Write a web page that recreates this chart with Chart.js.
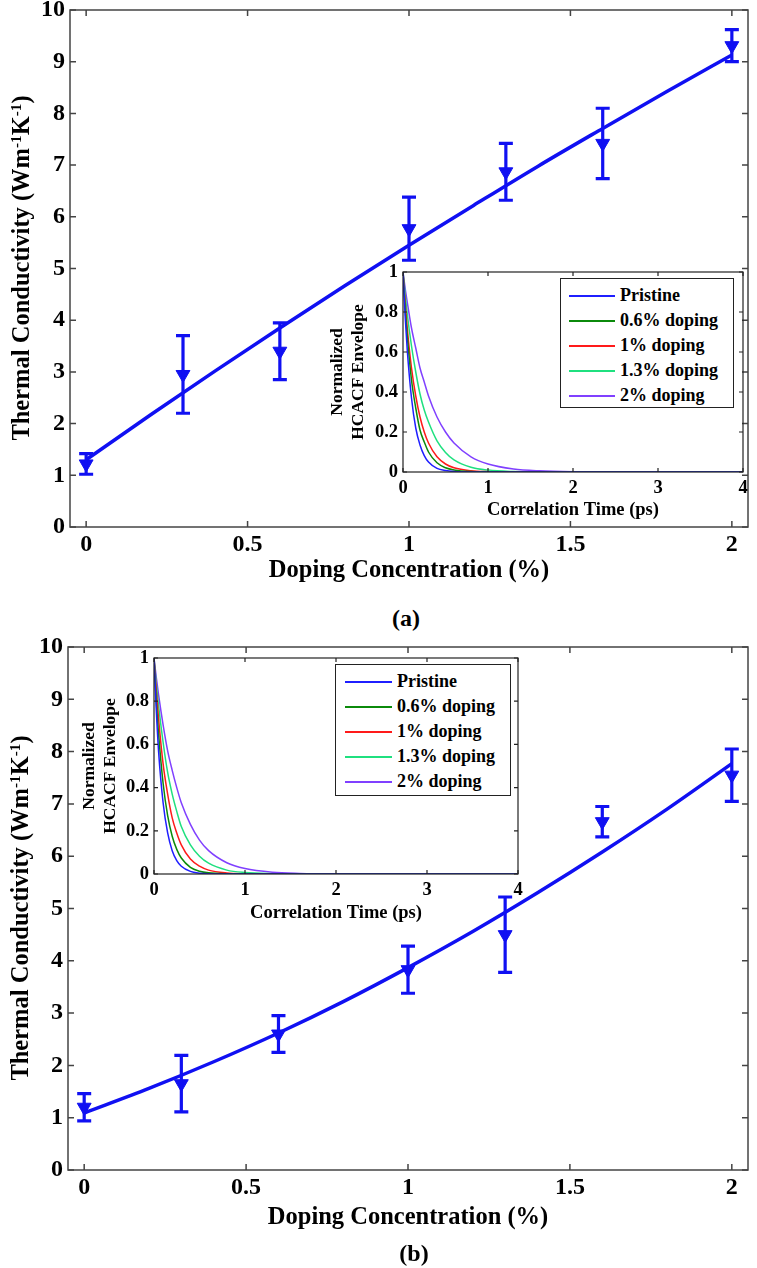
<!DOCTYPE html>
<html>
<head>
<meta charset="utf-8">
<script src="https://cdn.jsdelivr.net/npm/chart.js@4.4.1/dist/chart.umd.min.js"></script>
<style>
  body { margin: 0; background: #fff; width: 757px; height: 1268px; position: relative; overflow: hidden;
         font-family: 'Liberation Serif', 'Times New Roman', serif; font-weight: bold; color: #000; }
  canvas { position: absolute; }
  .legend { position: absolute; border: 1px solid #222; background: #fff; box-sizing: border-box; z-index: 5; }
  .legend .row { height: 25px; line-height: 25px; font-size: 18px; white-space: nowrap; position: relative; }
  .legend .sw { position: absolute; top: 12px; height: 2px; }
  .legend .tx { position: absolute; }
  .panel { position: absolute; font-size: 24px; text-align: center; width: 60px; line-height: 28px; }
  .ytitle { position: absolute; width: 420px; height: 30px; line-height: 30px; font-size: 24.5px; text-align: center;
            white-space: nowrap; transform: rotate(-90deg); transform-origin: 50% 50%; z-index: 4; }
  .ytitle sup { font-size: 0.62em; line-height: 0; vertical-align: 0.55em; }
</style>
</head>
<body>
<canvas id="mainA" width="757" height="590" style="left:0;top:0"></canvas>
<canvas id="insetA" width="432" height="259" style="left:322px;top:263px"></canvas>
<div id="legendA" class="legend" style="left:560px;top:278px;width:174px;height:130px;padding-top:4px"></div>
<div class="ytitle" style="left:-189px;top:253px">Thermal Conductivity (Wm<sup>-1</sup>K<sup>-1</sup>)</div>
<div class="panel" style="left:376px;top:604px">(a)</div>

<canvas id="mainB" width="757" height="615" style="left:0;top:625px"></canvas>
<canvas id="insetB" width="460" height="285" style="left:70px;top:645px"></canvas>
<div id="legendB" class="legend" style="left:335px;top:664px;width:176px;height:132px;padding-top:4px"></div>
<div class="ytitle" style="left:-190px;top:893px">Thermal Conductivity (Wm<sup>-1</sup>K<sup>-1</sup>)</div>
<div class="panel" style="left:384px;top:1239px">(b)</div>

<script>
// ---- main panels: thermal conductivity vs doping ----
const dopingX = [0, 0.3, 0.6, 1.0, 1.3, 1.6, 2.0];
const kappaA  = [1.22, 2.95, 3.4, 5.77, 6.87, 7.42, 9.31];
const errA    = [0.2, 0.75, 0.55, 0.61, 0.55, 0.68, 0.31];
const kappaB  = [1.2, 1.65, 2.6, 3.83, 4.5, 6.66, 7.55];
const errB    = [0.26, 0.54, 0.35, 0.45, 0.72, 0.29, 0.5];

const fitX = [0, 0.2, 0.4, 0.6, 0.8, 1.0, 1.2, 1.4, 1.6, 1.8, 2.0];
const fitA = [1.30, 2.17, 3.02, 3.85, 4.66, 5.45, 6.22, 6.98, 7.71, 8.43, 9.13];
const fitB = [1.09, 1.56, 2.07, 2.62, 3.22, 3.87, 4.56, 5.30, 6.08, 6.90, 7.77];

const mainXTicks = [0, 0.5, 1, 1.5, 2];
const mainYTicks = [0, 1, 2, 3, 4, 5, 6, 7, 8, 9, 10];

// ---- insets: normalized HCACF envelope ----
const corrT = [0, 0.025, 0.05, 0.1, 0.15, 0.2, 0.25, 0.3, 0.4, 0.5, 0.6, 0.8, 1.0, 1.3, 1.6, 2, 3, 4];
const hcacfA_pristine = [1, 0.78, 0.61, 0.37, 0.22, 0.135, 0.082, 0.05, 0.018, 0.007, 0.0025, 0.0003, 0, 0, 0, 0, 0, 0];
const hcacfA_06 = [1, 0.82, 0.68, 0.46, 0.32, 0.21, 0.15, 0.10, 0.046, 0.021, 0.01, 0.002, 0.0005, 0, 0, 0, 0, 0];
const hcacfA_1  = [1, 0.85, 0.72, 0.52, 0.38, 0.275, 0.20, 0.145, 0.076, 0.04, 0.021, 0.006, 0.0016, 0.0002, 0, 0, 0, 0];
const hcacfA_13 = [1, 0.89, 0.79, 0.63, 0.50, 0.39, 0.31, 0.25, 0.156, 0.098, 0.061, 0.024, 0.0096, 0.0024, 0.0006, 0.0001, 0, 0];
const hcacfA_2  = [1, 0.92, 0.85, 0.72, 0.62, 0.52, 0.45, 0.38, 0.275, 0.20, 0.145, 0.076, 0.04, 0.015, 0.0057, 0.0016, 0.0001, 0];

const hcacfB_pristine = [1, 0.76, 0.57, 0.33, 0.19, 0.108, 0.062, 0.036, 0.012, 0.004, 0.0013, 0.0001, 0, 0, 0, 0, 0, 0];
const hcacfB_06 = [1, 0.80, 0.65, 0.42, 0.27, 0.175, 0.114, 0.074, 0.031, 0.013, 0.0055, 0.001, 0.0002, 0, 0, 0, 0, 0];
const hcacfB_1  = [1, 0.85, 0.72, 0.51, 0.37, 0.26, 0.19, 0.135, 0.069, 0.036, 0.018, 0.0048, 0.0013, 0.0002, 0, 0, 0, 0];
const hcacfB_13 = [1, 0.88, 0.78, 0.61, 0.47, 0.37, 0.29, 0.22, 0.135, 0.082, 0.05, 0.018, 0.0067, 0.0015, 0.0003, 0, 0, 0];
const hcacfB_2  = [1, 0.91, 0.83, 0.69, 0.57, 0.48, 0.40, 0.33, 0.23, 0.157, 0.108, 0.052, 0.025, 0.008, 0.0027, 0.0006, 0, 0];

const seriesLabels = ['Pristine', '0.6% doping', '1% doping', '1.3% doping', '2% doping'];
const seriesColors = ['#1f1fff', '#0b8a0b', '#ff1a1a', '#1fe07f', '#8040ff'];

const insetXTicks = [0, 1, 2, 3, 4];
const insetYTicks = [0, 0.2, 0.4, 0.6, 0.8, 1];

const BLUE = '#1010f2';

Chart.defaults.font.family = "'Liberation Serif', 'Times New Roman', serif";
Chart.defaults.font.weight = 'bold';
Chart.defaults.color = '#000';
Chart.defaults.animation = false;

// frame box + inward ticks on all four sides
const frameTicks = {
    id: 'frameTicks',
    afterDraw(chart, args, opts) {
        const {ctx, chartArea: a} = chart;
        const x = chart.scales.x, y = chart.scales.y;
        ctx.save();
        ctx.strokeStyle = opts.color;
        ctx.lineWidth = opts.width;
        ctx.strokeRect(a.left, a.top, a.right - a.left, a.bottom - a.top);
        ctx.beginPath();
        x.ticks.forEach(t => {
            const px = x.getPixelForValue(t.value);
            ctx.moveTo(px, a.bottom); ctx.lineTo(px, a.bottom - opts.len);
            ctx.moveTo(px, a.top); ctx.lineTo(px, a.top + opts.len);
        });
        y.ticks.forEach(t => {
            const py = y.getPixelForValue(t.value);
            ctx.moveTo(a.left, py); ctx.lineTo(a.left + opts.len, py);
            ctx.moveTo(a.right, py); ctx.lineTo(a.right - opts.len, py);
        });
        ctx.stroke();
        ctx.restore();
    }
};

// vertical error bars with caps for the marker dataset
const errorBars = {
    id: 'errorBars',
    afterDatasetsDraw(chart, args, opts) {
        if (!opts.errors) return;
        const {ctx} = chart;
        const x = chart.scales.x, y = chart.scales.y;
        const ds = chart.data.datasets[opts.index];
        ctx.save();
        ctx.strokeStyle = opts.color;
        ctx.lineWidth = opts.width;
        ds.data.forEach((p, i) => {
            const e = opts.errors[i];
            const px = x.getPixelForValue(p.x);
            const y1 = y.getPixelForValue(p.y - e), y2 = y.getPixelForValue(p.y + e);
            ctx.beginPath();
            ctx.moveTo(px, y1); ctx.lineTo(px, y2);
            ctx.moveTo(px - opts.cap, y1); ctx.lineTo(px + opts.cap, y1);
            ctx.moveTo(px - opts.cap, y2); ctx.lineTo(px + opts.cap, y2);
            ctx.stroke();
        });
        ctx.restore();
    }
};

const pairs = (xs, ys) => xs.map((v, i) => ({x: v, y: ys[i]}));

const makeMain = (id, fit, kappa, errs, box) => {
    return new Chart(document.getElementById(id), {
        type: 'line',
        data: {
            datasets: [{
                data: pairs(fitX, fit),
                borderColor: BLUE,
                borderWidth: 3.5,
                pointRadius: 0,
                cubicInterpolationMode: 'monotone',
                fill: false
            }, {
                data: pairs(dopingX, kappa),
                showLine: false,
                pointStyle: 'triangle',
                rotation: 180,
                pointRadius: 8,
                pointBackgroundColor: BLUE,
                pointBorderColor: BLUE,
                pointBorderWidth: 1
            }]
        },
        plugins: [frameTicks, errorBars],
        options: {
            responsive: false,
            layout: {padding: {top: box.top, right: box.right, left: 0, bottom: 0}},
            plugins: {
                legend: {display: false},
                tooltip: {enabled: false},
                frameTicks: {color: '#444', width: 1.5, len: 6},
                errorBars: {index: 1, errors: errs, color: BLUE, width: 3.2, cap: 7}
            },
            scales: {
                x: {
                    type: 'linear', min: -0.05, max: 2.05,
                    grid: {display: false, drawTicks: false},
                    border: {display: false},
                    afterBuildTicks: s => { s.ticks = mainXTicks.map(v => ({value: v})); },
                    afterFit: s => { s.height = box.xh; s.paddingLeft = 0; s.paddingRight = 0; },
                    ticks: {font: {size: 24}, padding: 3, maxRotation: 0, callback: v => String(v)},
                    title: {display: true, text: 'Doping Concentration (%)', font: {size: 24.5}, padding: {top: 0, bottom: box.tb}}
                },
                y: {
                    type: 'linear', min: 0, max: 10,
                    grid: {display: false, drawTicks: false},
                    border: {display: false},
                    afterBuildTicks: s => { s.ticks = mainYTicks.map(v => ({value: v})); },
                    afterFit: s => { s.width = box.yw; s.paddingTop = 0; s.paddingBottom = 0; },
                    ticks: {font: {size: 24}, padding: 5, callback: v => String(v)}
                }
            }
        }
    });
};

const makeInset = (id, curves, box) => {
    return new Chart(document.getElementById(id), {
        type: 'line',
        data: {
            datasets: curves.map((c, i) => ({
                label: seriesLabels[i],
                data: pairs(corrT, c),
                borderColor: seriesColors[i],
                borderWidth: 1.5,
                pointRadius: 0,
                cubicInterpolationMode: 'monotone',
                fill: false
            }))
        },
        plugins: [frameTicks],
        options: {
            responsive: false,
            layout: {padding: {top: box.top, right: box.right, left: 0, bottom: 0}},
            plugins: {
                legend: {display: false},
                tooltip: {enabled: false},
                frameTicks: {color: '#222', width: 1.2, len: 4}
            },
            scales: {
                x: {
                    type: 'linear', min: 0, max: 4,
                    grid: {display: false, drawTicks: false},
                    border: {display: false},
                    afterBuildTicks: s => { s.ticks = insetXTicks.map(v => ({value: v})); },
                    afterFit: s => { s.height = box.xh; s.paddingLeft = 0; s.paddingRight = 0; },
                    ticks: {font: {size: 18.5}, padding: 5, maxRotation: 0, callback: v => String(v)},
                    title: {display: true, text: 'Correlation Time (ps)', font: {size: 18.5}, padding: {top: 0, bottom: box.tb}}
                },
                y: {
                    type: 'linear', min: 0, max: 1,
                    grid: {display: false, drawTicks: false},
                    border: {display: false},
                    afterBuildTicks: s => { s.ticks = insetYTicks.map(v => ({value: v})); },
                    afterFit: s => { s.width = box.yw; s.paddingTop = 0; s.paddingBottom = 0; },
                    ticks: {font: {size: 18.5}, padding: 5, callback: v => String(v)},
                    title: {display: true, text: ['Normalized', 'HCACF Envelope'], font: {size: 17.5, lineHeight: 1.2}, padding: {top: box.tp, bottom: 0}}
                }
            }
        }
    });
};

const buildLegend = (el, chart, sampleLeft, sampleWidth) => {
    chart.data.datasets.forEach(ds => {
        const row = document.createElement('div');
        row.className = 'row';
        const sw = document.createElement('span');
        sw.className = 'sw';
        sw.style.left = sampleLeft + 'px';
        sw.style.width = sampleWidth + 'px';
        sw.style.background = ds.borderColor;
        const tx = document.createElement('span');
        tx.className = 'tx';
        tx.style.left = (sampleLeft + sampleWidth + 5) + 'px';
        tx.textContent = ds.label;
        row.appendChild(sw);
        row.appendChild(tx);
        el.appendChild(row);
    });
};

makeMain('mainA', fitA, kappaA, errA, {top: 10, right: 8, yw: 70, xh: 63, tb: 5});
makeMain('mainB', fitB, kappaB, errB, {top: 22, right: 4, yw: 68, xh: 70, tb: 8});

const insetA = makeInset('insetA', [hcacfA_pristine, hcacfA_06, hcacfA_1, hcacfA_13, hcacfA_2],
    {top: 9, right: 11, yw: 81, xh: 50, tb: 1, tp: 5});
const insetB = makeInset('insetB', [hcacfB_pristine, hcacfB_06, hcacfB_1, hcacfB_13, hcacfB_2],
    {top: 13, right: 12, yw: 84, xh: 56, tb: 6, tp: 9});

buildLegend(document.getElementById('legendA'), insetA, 8, 46);
buildLegend(document.getElementById('legendB'), insetB, 9, 47);
</script>
</body>
</html>
